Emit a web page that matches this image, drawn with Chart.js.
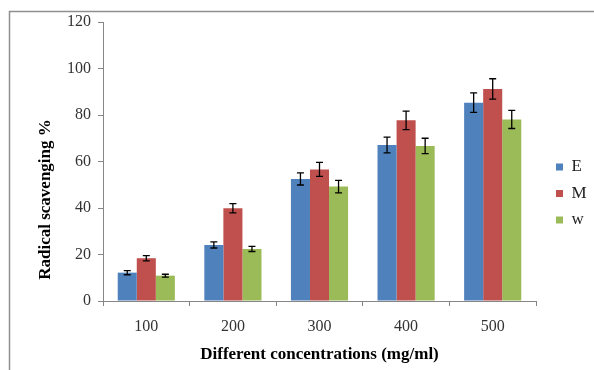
<!DOCTYPE html>
<html>
<head>
<meta charset="utf-8">
<script src="https://cdn.jsdelivr.net/npm/chart.js@4/dist/chart.umd.min.js"></script>
<style>
  html, body { margin: 0; padding: 0; background: #fff; }
  #wrap { width: 594px; height: 370px; }
</style>
</head>
<body>
<div id="wrap"><canvas id="c" width="594" height="370"></canvas></div>
<script>
// ---- data ----
const categories = ["100", "200", "300", "400", "500"];
const seriesNames = ["E", "M", "w"];
const valuesE = [12.2, 24.1, 52.5, 67.1, 85.3];
const valuesM = [18.4, 39.9, 56.6, 77.7, 91.2];
const valuesW = [10.9, 22.4, 49.2, 66.7, 78.1];
const errorsE = [0.9, 1.3, 2.6, 3.4, 4.2];
const errorsM = [1.1, 2.0, 3.0, 4.0, 4.4];
const errorsW = [0.6, 1.1, 2.7, 3.3, 3.9];
const yTicks = [0, 20, 40, 60, 80, 100, 120];
const yTitle = "Radical scavenging %";
const xTitle = "Different concentrations (mg/ml)";

const colors = ["#4F81BD", "#C0504D", "#9BBB59"];
const seriesValues = [valuesE, valuesM, valuesW];
const seriesErrors = [errorsE, errorsM, errorsW];

const serif = "'Liberation Serif', 'Times New Roman', serif";

const framePlugin = {
  id: 'frame',
  beforeDraw(chart) {
    const ctx = chart.ctx;
    ctx.save();
    ctx.fillStyle = '#fff';
    ctx.fillRect(0, 0, chart.width, chart.height);
    ctx.strokeStyle = '#8f8f8f';
    ctx.lineWidth = 1.5;
    ctx.strokeRect(9.5, 11.5, chart.width + 20, chart.height + 20);
    ctx.restore();
  }
};

const errorBarPlugin = {
  id: 'errorBars',
  afterDatasetsDraw(chart) {
    const ctx = chart.ctx;
    const yScale = chart.scales.y;
    ctx.save();
    ctx.strokeStyle = '#000';
    ctx.lineWidth = 1.3;
    chart.data.datasets.forEach((ds, i) => {
      const meta = chart.getDatasetMeta(i);
      meta.data.forEach((bar, j) => {
        const v = ds.data[j];
        const e = ds.errors[j];
        const x = bar.x;
        const yT = yScale.getPixelForValue(v + e);
        const yB = yScale.getPixelForValue(v - e);
        const cw = 3.5;
        ctx.beginPath();
        ctx.moveTo(x, yT); ctx.lineTo(x, yB);
        ctx.moveTo(x - cw, yT); ctx.lineTo(x + cw, yT);
        ctx.moveTo(x - cw, yB); ctx.lineTo(x + cw, yB);
        ctx.stroke();
      });
    });
    ctx.restore();
  }
};

// y-axis title, placed slightly below the centre of the axis as in the original
const yTitlePlugin = {
  id: 'yTitle',
  afterDraw(chart) {
    const ctx = chart.ctx;
    const s = chart.scales.y;
    ctx.save();
    ctx.translate(s.left + 16, (s.top + s.bottom) / 2 + 38);
    ctx.rotate(-Math.PI / 2);
    ctx.font = "bold 17px " + serif;
    ctx.fillStyle = '#000';
    ctx.textAlign = 'center';
    ctx.textBaseline = 'middle';
    ctx.fillText(yTitle, 0, 0);
    ctx.restore();
  }
};

const legendShift = {
  id: 'legendShift',
  afterLayout(chart) {
    const lg = chart.legend;
    if (lg) { lg.left += 10.5; lg.right = chart.width; lg.width = lg.right - lg.left; }
  }
};

new Chart(document.getElementById('c'), {
  type: 'bar',
  data: {
    labels: categories,
    datasets: seriesNames.map((name, i) => ({
      label: name,
      data: seriesValues[i],
      errors: seriesErrors[i],
      backgroundColor: colors[i],
      borderWidth: 0,
      categoryPercentage: 0.66,
      barPercentage: 1.0
    }))
  },
  options: {
    responsive: false,
    animation: false,
    devicePixelRatio: 1,
    layout: { padding: { left: 30, top: 22, right: 28, bottom: 5 } },
    plugins: {
      tooltip: { enabled: false },
      legend: {
        position: 'right',
        maxWidth: 30,
        labels: {
          boxWidth: 7,
          boxHeight: 7,
          padding: 9.5,
          color: '#222',
          font: { family: serif, size: 17 }
        }
      }
    },
    scales: {
      x: {
        grid: { display: true, drawOnChartArea: false, offset: true, tickLength: 5, color: '#868686' },
        border: { display: true, color: '#868686', width: 1 },
        ticks: { color: '#333', padding: 11, font: { family: serif, size: 16 } },
        title: {
          display: true,
          text: xTitle,
          color: '#000',
          padding: { top: 0, bottom: 0 },
          font: { family: serif, size: 17, weight: 'bold' }
        },
        afterFit(s) { s.height = 64; }
      },
      y: {
        min: 0,
        max: 120,
        afterBuildTicks(s) { s.ticks = yTicks.map(v => ({ value: v })); },
        grid: { display: true, drawOnChartArea: false, tickLength: 5, color: '#868686' },
        border: { display: true, color: '#868686', width: 1 },
        ticks: { color: '#333', padding: 7, font: { family: serif, size: 16 } },
        title: { display: false },
        afterFit(s) { s.width = 73; }
      }
    }
  },
  plugins: [framePlugin, errorBarPlugin, yTitlePlugin, legendShift]
});
</script>
</body>
</html>
